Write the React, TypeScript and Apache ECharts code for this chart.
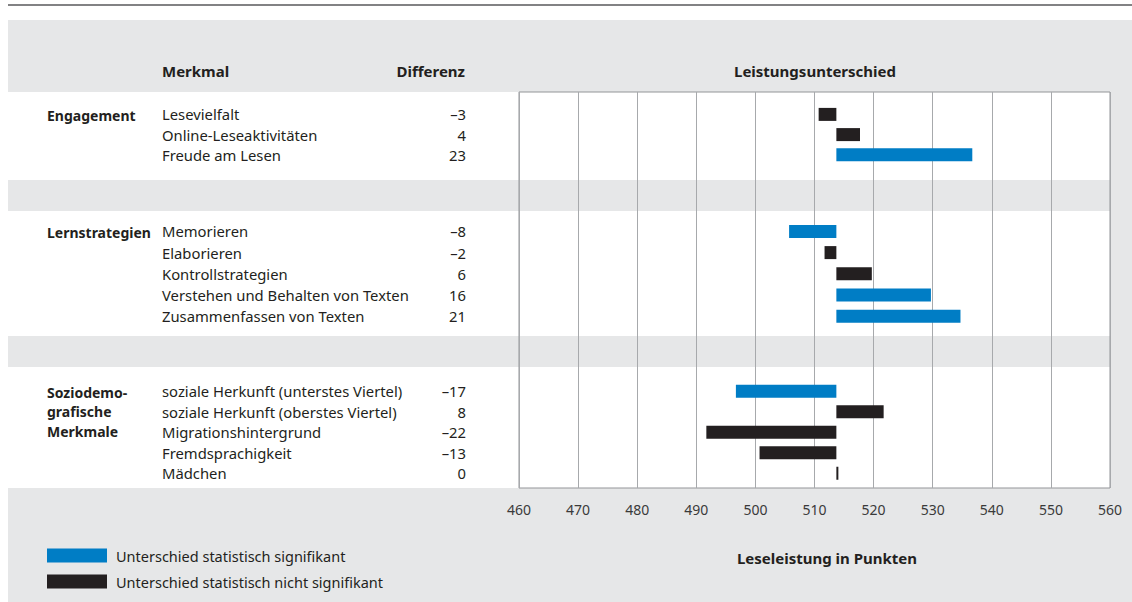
import React, { useEffect, useRef } from "react";
import * as echarts from "echarts";

// ---------- data ----------
const groupLabels = ["Engagement", "Lernstrategien", "Soziodemo-\ngrafische\nMerkmale"];

const engagementItems = ["Lesevielfalt", "Online-Leseaktivitäten", "Freude am Lesen"];
const engagementDiff = [-3, 4, 23];
const engagementSig = [false, false, true];

const strategyItems = [
  "Memorieren",
  "Elaborieren",
  "Kontrollstrategien",
  "Verstehen und Behalten von Texten",
  "Zusammenfassen von Texten",
];
const strategyDiff = [-8, -2, 6, 16, 21];
const strategySig = [true, false, false, true, true];

const socioItems = [
  "soziale Herkunft (unterstes Viertel)",
  "soziale Herkunft (oberstes Viertel)",
  "Migrationshintergrund",
  "Fremdsprachigkeit",
  "Mädchen",
];
const socioDiff = [-17, 8, -22, -13, 0];
const socioSig = [true, false, false, false, false];

const baseline = 513.7;
const axisMin = 460;
const axisMax = 560;
const axisInterval = 10;

const headerMerkmal = "Merkmal";
const headerDiff = "Differenz";
const headerChart = "Leistungsunterschied";
const xAxisTitle = "Leseleistung in Punkten";
const sigName = "Unterschied statistisch signifikant";
const nonSigName = "Unterschied statistisch nicht signifikant";

// ---------- styles ----------
const FONT = "Noto Sans";
const BLUE = "#007dc5";
const BLACK = "#231f20";
const GRAY_BG = "#e6e7e8";
const TEXT = "#231f20";
const ITEM_SIZE = 14.8;
const BOLD_SIZE = 15;

const PLOT_LEFT = 519;
const PLOT_WIDTH = 591;

const groupGrids = [
  { top: 104.3, height: 60.6 },
  { top: 220.8, height: 106 },
  { top: 381, height: 102.5 },
];

const fmtDiff = (d: number) => (d < 0 ? "\u2013" + Math.abs(d) : String(d));

export default function App() {
  const ref = useRef<HTMLDivElement>(null);

  useEffect(() => {
    if (!ref.current) return;
    const chart = echarts.init(ref.current, null, { renderer: "svg" });

    const groups = [
      { items: engagementItems, diff: engagementDiff, sig: engagementSig },
      { items: strategyItems, diff: strategyDiff, sig: strategySig },
      { items: socioItems, diff: socioDiff, sig: socioSig },
    ];

    const grid: any[] = groups.map((_, i) => ({
      left: PLOT_LEFT,
      width: PLOT_WIDTH,
      top: groupGrids[i].top,
      height: groupGrids[i].height,
      containLabel: false,
      outerBoundsMode: "none",
    }));
    // background grid with vertical lines and frame
    grid.push({
      left: PLOT_LEFT,
      width: PLOT_WIDTH,
      top: 92,
      height: 396,
      show: true,
      borderColor: "#939598",
      borderWidth: 1,
      backgroundColor: "transparent",
      containLabel: false,
      outerBoundsMode: "none",
    });

    const xAxis: any[] = groups.map((_, i) => ({
      type: "value",
      gridIndex: i,
      min: axisMin,
      max: axisMax,
      interval: axisInterval,
      show: false,
    }));
    xAxis.push({
      type: "value",
      gridIndex: 3,
      min: axisMin,
      max: axisMax,
      interval: axisInterval,
      axisLine: { show: false },
      axisTick: { show: false },
      splitLine: { show: true, lineStyle: { color: "#a7a9ac", width: 1 } },
      axisLabel: { color: "#3a3a3a", fontSize: 14, fontFamily: FONT, margin: 14 },
    });

    const yAxis: any[] = [];
    groups.forEach((g, i) => {
      yAxis.push({
        type: "category",
        gridIndex: i,
        position: "left",
        data: g.items,
        inverse: true,
        axisLine: { show: false },
        axisTick: { show: false },
        splitLine: { show: false },
        axisLabel: {
          align: "left",
          margin: PLOT_LEFT - 162,
          interval: 0,
          color: TEXT,
          fontSize: ITEM_SIZE,
          fontFamily: FONT,
        },
      });
      yAxis.push({
        type: "category",
        gridIndex: i,
        position: "left",
        offset: 0,
        data: g.diff.map(fmtDiff),
        inverse: true,
        axisLine: { show: false },
        axisTick: { show: false },
        splitLine: { show: false },
        axisLabel: {
          align: "right",
          margin: PLOT_LEFT - 466,
          interval: 0,
          color: TEXT,
          fontSize: ITEM_SIZE,
          fontFamily: FONT,
        },
      });
    });
    yAxis.push({ type: "value", gridIndex: 3, show: false });

    const series: any[] = [];
    groups.forEach((g, i) => {
      const stack = "s" + i;
      const common = {
        type: "bar",
        xAxisIndex: i,
        yAxisIndex: i * 2,
        stack,
        barWidth: 13,
        silent: true,
      };
      series.push({
        ...common,
        name: "base",
        itemStyle: { color: "transparent" },
        data: g.diff.map((d) => Math.min(baseline, baseline + d)),
      });
      series.push({
        ...common,
        name: sigName,
        itemStyle: { color: BLUE },
        data: g.diff.map((d, k) => (g.sig[k] ? Math.abs(d) : "-")),
      });
      series.push({
        ...common,
        name: nonSigName,
        itemStyle: { color: BLACK },
        barMinHeight: i === 2 ? 2 : 0,
        data: g.diff.map((d, k) => (g.sig[k] ? "-" : Math.abs(d))),
      });
    });

    const textStyleBase = { fontFamily: FONT, fill: TEXT, fontSize: ITEM_SIZE };
    const bgRect = (x: number, y: number, w: number, h: number, fill: string) => ({
      type: "rect",
      z: -10,
      silent: true,
      shape: { x, y, width: w, height: h },
      style: { fill },
    });
    const boldText = (text: string, x: number, y: number, align: string) => ({
      type: "text",
      x,
      y,
      silent: true,
      style: {
        ...textStyleBase,
        text,
        fontWeight: "bold",
        fontSize: BOLD_SIZE,
        align,
        verticalAlign: "middle",
      },
    });

    const graphic: any[] = [
      bgRect(8, 20, 1124, 582, GRAY_BG),
      bgRect(8, 92, 1102, 88, "#ffffff"),
      bgRect(8, 211, 1102, 125, "#ffffff"),
      bgRect(8, 367, 1102, 121, "#ffffff"),
      {
        type: "line",
        z: 5,
        silent: true,
        shape: { x1: 8, y1: 5, x2: 1132, y2: 5 },
        style: { stroke: "#58595b", lineWidth: 1.5 },
      },
      boldText(headerMerkmal, 162, 71, "left"),
      boldText(headerDiff, 465, 71, "right"),
      boldText(headerChart, 815, 71, "center"),
      boldText(xAxisTitle, 827, 558, "center"),
    ];
    const groupLabelTops = [105.5, 222.5, 382.5];
    groupLabels.forEach((label, i) => {
      graphic.push({
        type: "text",
        x: 47,
        y: groupLabelTops[i],
        silent: true,
        style: {
          ...textStyleBase,
          text: label,
          fontWeight: "bold",
          fontSize: 14,
          lineHeight: 19.5,
          verticalAlign: "top",
        },
      });
    });

    chart.setOption({
      animation: false,
      backgroundColor: "#ffffff",
      textStyle: { fontFamily: FONT },
      grid,
      xAxis,
      yAxis,
      series,
      legend: {
        data: [sigName, nonSigName],
        orient: "vertical",
        left: 47,
        top: 548,
        itemWidth: 60,
        itemHeight: 14,
        itemGap: 11,
        icon: "rect",
        selectedMode: false,
        padding: 0,
        textStyle: { color: TEXT, fontSize: 14.5, fontFamily: FONT, padding: [0, 0, 0, 4] },
      },
      graphic,
    });

    return () => chart.dispose();
  }, []);

  return (
    <div
      ref={ref}
      style={{ position: "fixed", left: 0, top: 0, width: 1132, height: 602 }}
    />
  );
}
